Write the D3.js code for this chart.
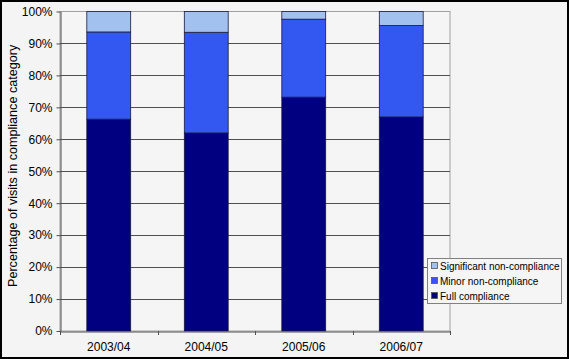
<!DOCTYPE html>
<html>
<head>
<meta charset="utf-8">
<script src="https://cdn.jsdelivr.net/npm/d3@7"></script>
<style>
  html, body { margin: 0; padding: 0; background: #f4f4f4; }
  svg { display: block; font-family: Arial, "Liberation Sans", sans-serif; }
</style>
</head>
<body>
<div id="graphicContainer"></div>
<script>

// data
const years = ["2003/04", "2004/05", "2005/06", "2006/07"]
const fullCompliance = [66.3, 62, 73.2, 67]
const minorNonCompliance = [27.3, 31.5, 24.4, 28.6]
const significantNonCompliance = [6.4, 6.5, 2.4, 4.4]
const seriesNames = ["Full compliance", "Minor non-compliance", "Significant non-compliance"]
const seriesColors = ["#000080", "#3358f2", "#a3c1ee"]
const yTicks = [0, 10, 20, 30, 40, 50, 60, 70, 80, 90, 100]

const width = 569
const height = 359
const margin = { left: 60, right: 119, top: 11.5, bottom: 28 }

const datum = years.map((y, i) => ({
  year: y,
  "Full compliance": fullCompliance[i],
  "Minor non-compliance": minorNonCompliance[i],
  "Significant non-compliance": significantNonCompliance[i]
}))

const stacked = d3.stack().keys(seriesNames)(datum)

const svg = d3.select("#graphicContainer").append("svg")
  .attr("width", width)
  .attr("height", height)

svg.append("rect")
  .attr("width", width).attr("height", height)
  .attr("fill", "#f4f4f4")

const x = d3.scaleBand()
  .domain(years)
  .range([margin.left, width - margin.right])
  .paddingInner(0.55)
  .paddingOuter(0.275)

const y = d3.scaleLinear()
  .domain([0, 100])
  .range([height - margin.bottom, margin.top])

const colors = d3.scaleOrdinal().domain(seriesNames).range(seriesColors)

// plot area frame
svg.append("rect")
  .attr("x", margin.left)
  .attr("y", y(100))
  .attr("width", width - margin.right - margin.left)
  .attr("height", y(0) - y(100))
  .attr("fill", "#f5f5f5")
  .attr("stroke", "#a0a0a0")

// gridlines
svg.append("g")
  .selectAll("line")
  .data(yTicks.filter(d => d > 0 && d < 100))
  .enter()
  .append("line")
  .attr("x1", margin.left)
  .attr("x2", width - margin.right)
  .attr("y1", d => Math.round(y(d)) + 0.5)
  .attr("y2", d => Math.round(y(d)) + 0.5)
  .attr("stroke", "#505050")

// bars
svg.append("g")
  .selectAll("g")
  .data(stacked)
  .enter()
  .append("g")
  .attr("fill", d => colors(d.key))
  .selectAll("rect")
  .data(d => d)
  .enter()
  .append("rect")
  .attr("x", d => x(d.data.year))
  .attr("y", d => y(d[1]))
  .attr("width", x.bandwidth())
  .attr("height", d => y(d[0]) - y(d[1]))
  .attr("stroke", "#1a1a40")
  .attr("stroke-width", 0.8)

// y axis
const yAxis = svg.append("g")
  .attr("transform", `translate(${margin.left + 0.5},0)`)
  .call(d3.axisLeft(y).tickValues(yTicks).tickFormat(d => d + "%").tickSize(4).tickSizeOuter(0))

yAxis.select(".domain").attr("stroke", "#505050")
yAxis.selectAll(".tick line").attr("stroke", "#505050")
yAxis.selectAll(".tick text")
  .attr("x", -8)
  .attr("fill", "#000")
  .style("font-size", "12px")

// x axis
const xAxis = svg.append("g")
  .attr("transform", `translate(0,${y(0) + 0.5})`)
  .call(d3.axisBottom(x).tickSize(0).tickPadding(11))

xAxis.select(".domain").attr("stroke", "#505050")
xAxis.selectAll(".tick text")
  .attr("fill", "#000")
  .style("font-size", "12px")

// tick marks between categories
const step = x.step()
svg.append("g")
  .selectAll("line")
  .data(d3.range(years.length + 1))
  .enter()
  .append("line")
  .attr("x1", i => Math.round(margin.left + i * step) + 0.5)
  .attr("x2", i => Math.round(margin.left + i * step) + 0.5)
  .attr("y1", y(0))
  .attr("y2", y(0) + 4)
  .attr("stroke", "#505050")

// y axis title
svg.append("text")
  .attr("transform", "translate(17,287) rotate(-90)")
  .attr("text-anchor", "start")
  .style("font-size", "12.6px")
  .attr("fill", "#000")
  .text("Percentage of visits in compliance category")

// legend
const legend = svg.append("g")
  .attr("transform", "translate(427,258)")

legend.append("rect")
  .attr("x", 0.5).attr("y", 0.5)
  .attr("width", 134).attr("height", 45)
  .attr("fill", "#f5f5f5")
  .attr("stroke", "#808080")

const legendKeys = seriesNames.slice().reverse()

legendKeys.forEach((key, i) => {
  const row = legend.append("g")
    .attr("transform", `translate(0,${8 + i * 15})`)

  row.append("rect")
    .attr("x", 4.5).attr("y", -3.5)
    .attr("width", 6).attr("height", 6)
    .attr("fill", colors(key))
    .attr("stroke", "#555")
    .attr("stroke-width", 0.8)

  row.append("text")
    .attr("x", 13)
    .attr("y", 4)
    .style("font-size", "10px")
    .attr("fill", "#000")
    .text(key)
})

// outer border
svg.append("rect")
  .attr("x", 1).attr("y", 1)
  .attr("width", width - 2).attr("height", height - 2)
  .attr("fill", "none")
  .attr("stroke", "#000")
  .attr("stroke-width", 2)

</script>
</body>
</html>
